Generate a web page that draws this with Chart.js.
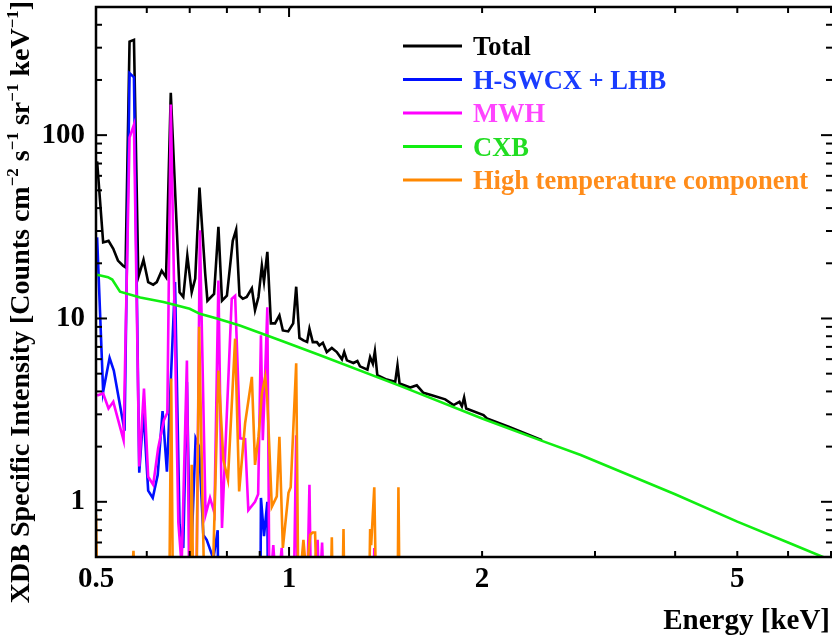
<!DOCTYPE html>
<html>
<head>
<meta charset="utf-8">
<script src="https://cdn.jsdelivr.net/npm/chart.js@4.4.1/dist/chart.umd.min.js"></script>
<style>
  html, body { margin: 0; padding: 0; background: #fff; }
  #wrap { width: 832px; height: 637px; position: relative; }
</style>
</head>
<body>
<div id="wrap"><canvas id="spec"></canvas></div>
<script>
// energies (keV) and intensities, one pair of arrays per component
const totalE = [0.502,0.513,0.523,0.532,0.541,0.551,0.556,0.564,0.573,0.582,
                0.593,0.603,0.614,0.622,0.633,0.643,0.654,0.675,0.684,0.694,
                0.705,0.714,0.725,0.740,0.746,0.764,0.776,0.786,0.800,0.817,
                0.827,0.837,0.847,0.859,0.875,0.885,0.896,0.907,0.914,0.925,
                0.937,0.951,0.966,0.978,0.997,1.015,1.026,1.038,1.053,1.067,
                1.076,1.089,1.105,1.115,1.129,1.145,1.166,1.187,1.209,1.219,
                1.231,1.260,1.278,1.290,1.325,1.338,1.351,1.361,1.373,1.420,
                1.464,1.476,1.487,1.545,1.582,1.620,1.670,1.752,1.805,1.844,
                1.860,1.875,1.889,2.010,2.035,2.200,2.480];
const totalI = [72,26,26.5,24,20.7,19.4,19,324,331,16.8,
                20.9,15.8,15.3,15.8,18.2,16.8,170,13.9,13.1,22,
                13.9,16.5,51.7,17.6,12.5,13.6,31.6,12.5,13.3,26.5,
                30.5,13.3,12.8,13.1,14.6,11.1,13.1,19.4,15.9,23.1,
                9.4,9.4,10.4,8.6,8.5,9.4,14.9,7.83,7.6,7.45,
                8.8,7.43,7.43,7.13,7.37,6.56,6.9,6.56,5.99,6.56,
                5.91,5.72,5.86,5.48,5.26,6.16,5.67,6.62,4.9,4.64,
                4.51,5.55,4.42,4.2,4.32,3.93,3.81,3.62,3.37,3.51,
                3.32,3.71,3.23,2.97,2.85,2.57,2.17];

const swcxE = [0.502,0.513,0.525,0.533,0.554,0.564,0.573,0.584,0.593,0.603,
               0.613,0.624,0.635,0.645,0.664,0.675,0.684,0.693,0.702,0.715,
               0.724,0.735,0.744,0.762,0.774,0.782,0.898,0.904,0.914,0.925,0.933];
const swcxI = [27.7,3.98,6.1,5.2,2.44,218,207,1.44,3.13,1.15,
               1.05,1.4,3.12,1.46,15.8,0.75,0.56,4.5,0.4,2.22,
               2.0,0.66,0.62,0.49,0.7,0.01,0.01,1.05,0.65,1.0,0.01];

const mwhE = [0.502,0.513,0.523,0.532,0.552,0.564,0.573,0.584,0.594,0.603,
              0.614,0.625,0.638,0.646,0.654,0.672,0.680,0.693,0.699,0.717,
              0.726,0.741,0.753,0.765,0.776,0.786,0.814,0.824,0.839,0.854,
              0.864,0.885,0.895,0.904,0.910,0.915,0.925,0.932,0.945,0.957,
              0.974,0.983,1.017,1.026,1.031,1.067,1.076,1.082,1.108,1.115,
              1.126,1.134,1.355,1.358,1.363];
const mwhI = [3.8,3.9,3.23,3.51,2.17,97,114,1.56,4.15,1.37,
              1.24,1.96,2.79,3.06,147,0.77,0.45,5.9,0.3,0.3,
              30.3,0.85,1.05,0.87,16.1,0.72,12.8,13.3,2.22,2.2,
              0.9,1.0,1.1,8.1,2.17,3.58,11.5,0.3,0.58,0.3,
              0.56,0.3,0.3,2.31,0.3,0.3,1.24,0.3,0.62,0.3,
              0.6,0.3,0.3,0.56,0.3];

const cxbE = [0.502,0.522,0.530,0.545,0.586,0.637,0.700,0.726,0.772,0.838,
              0.968,1.118,1.5,2.0,2.48,2.85,4.0,5.0,6.0,6.8,7.0];
const cxbI = [17.3,16.8,16.3,14.0,13.0,12.3,11.3,10.6,10.0,9.15,
              7.6,6.3,4.25,2.85,2.15,1.8,1.1,0.78,0.6,0.5,0.48];

const hotE = [0.500,0.510,0.566,0.572,0.576,0.645,0.655,0.664,0.701,0.705,
              0.709,0.717,0.724,0.738,0.759,0.776,0.790,0.803,0.824,0.836,
              0.854,0.875,0.885,0.896,0.907,0.918,0.925,0.940,0.957,0.966,
              0.978,0.998,1.006,1.026,1.034,1.053,1.064,1.079,1.088,1.098,
              1.105,1.161,1.166,1.170,1.211,1.216,1.220,1.333,1.338,1.343,
              1.358,1.367,1.477,1.481,1.487];
const hotI = [0.85,0.01,0.3,0.54,0.3,0.01,4.7,0.01,0.3,1.59,
              0.3,0.3,9.0,0.3,0.3,5.2,1.69,1.32,7.76,1.14,
              2.68,4.8,1.59,2.26,3.9,4.8,3.58,0.94,1.07,2.26,
              0.56,1.12,1.2,5.7,0.3,0.62,0.4,0.66,0.68,0.68,
              0.3,0.3,0.64,0.3,0.3,0.71,0.3,0.3,0.71,0.58,
              1.2,0.3,0.3,1.2,0.3];

const xTickLabels = [0.5, 1, 2, 5];
const yTickLabels = [1, 10, 100];
const xMajor = [1];
const xMinor = [0.6, 0.7, 0.8, 0.9, 2, 3, 4, 5, 6, 7];
const yMajor = [1, 10, 100];
const yMinor = [0.6, 0.7, 0.8, 0.9, 2, 3, 4, 5, 6, 7, 8, 9,
                20, 30, 40, 50, 60, 70, 80, 90, 200, 300, 400];

const SERIF = "'Liberation Serif', 'Times New Roman', serif";

function pts(xs, ys) {
  return xs.map((x, i) => ({ x: x, y: ys[i] }));
}

function line(ctx, x1, y1, x2, y2) {
  ctx.beginPath();
  ctx.moveTo(x1, y1);
  ctx.lineTo(x2, y2);
  ctx.stroke();
}

function noPad(s) {
  s.paddingTop = 0;
  s.paddingBottom = 0;
  s.paddingLeft = 0;
  s.paddingRight = 0;
}

// frame (right edge falls off the canvas), inward ticks, legend and axis titles
const decorations = {
  id: 'decorations',
  afterDatasetsDraw(chart) {
    const ctx = chart.ctx;
    const a = chart.chartArea;
    const xs = chart.scales.x, ys = chart.scales.y;
    ctx.save();
    ctx.strokeStyle = '#000';
    ctx.lineWidth = 2.5;
    ctx.beginPath();
    ctx.moveTo(a.right + 2, a.top);
    ctx.lineTo(a.left, a.top);
    ctx.lineTo(a.left, a.bottom);
    ctx.lineTo(a.right + 2, a.bottom);
    ctx.stroke();

    ctx.lineWidth = 2;
    const xt = (v, len) => {
      const p = xs.getPixelForValue(v);
      line(ctx, p, a.bottom, p, a.bottom - len);
      line(ctx, p, a.top, p, a.top + len);
    };
    const yt = (v, len) => {
      const p = ys.getPixelForValue(v);
      line(ctx, a.left, p, a.left + len, p);
      line(ctx, a.right + 1, p, a.right + 1 - len, p);
    };
    xMajor.forEach(v => xt(v, 10));
    xMinor.forEach(v => xt(v, 6));
    yMajor.forEach(v => yt(v, 11));
    yMinor.forEach(v => yt(v, 6));

    // legend
    ctx.font = 'bold 26.5px ' + SERIF;
    ctx.textAlign = 'left';
    ctx.textBaseline = 'alphabetic';
    chart.data.datasets.forEach((ds, i) => {
      const y = 46 + i * 33.5;
      ctx.strokeStyle = ds.borderColor;
      ctx.lineWidth = 3;
      line(ctx, 403, y, 462, y);
      ctx.fillStyle = ds.textColor;
      ctx.fillText(ds.label, 473, y + 9);
    });

    // axis titles
    ctx.fillStyle = '#000';
    ctx.font = 'bold 29px ' + SERIF;
    ctx.textAlign = 'right';
    ctx.fillText('Energy [keV]', 830, 629);

    const parts = [['XDB Specific Intensity [Counts cm', 0], ['\u22122', 1], [' s', 0], ['\u22121', 1],
                   [' sr', 0], ['\u22121', 1], [' keV', 0], ['\u22121', 1], [']', 0]];
    const big = 'bold 28px ' + SERIF, small = 'bold 17px ' + SERIF;
    let w = 0;
    parts.forEach(p => { ctx.font = p[1] ? small : big; w += ctx.measureText(p[0]).width; });
    ctx.translate(29, 302);
    ctx.rotate(-Math.PI / 2);
    ctx.textAlign = 'left';
    let cx = -w / 2;
    parts.forEach(p => {
      ctx.font = p[1] ? small : big;
      ctx.fillText(p[0], cx, p[1] ? -11 : 0);
      cx += ctx.measureText(p[0]).width;
    });
    ctx.restore();
  }
};

new Chart(document.getElementById('spec').getContext('2d'), {
  type: 'line',
  data: {
    datasets: [
      { label: 'Total', data: pts(totalE, totalI), borderColor: '#000000', textColor: '#000000', order: 5 },
      { label: 'H-SWCX + LHB', data: pts(swcxE, swcxI), borderColor: '#0010ff', textColor: '#1a3cff', order: 4 },
      { label: 'MWH', data: pts(mwhE, mwhI), borderColor: '#ff00ff', textColor: '#ff44ff', order: 3 },
      { label: 'CXB', data: pts(cxbE, cxbI), borderColor: '#11ee11', textColor: '#22dd22', order: 2 },
      { label: 'High temperature component', data: pts(hotE, hotI), borderColor: '#ff8800', textColor: '#ff8c1a', order: 1 }
    ]
  },
  options: {
    responsive: true,
    maintainAspectRatio: false,
    animation: false,
    layout: { padding: { top: 7, right: 1, left: 0, bottom: 0 } },
    elements: {
      line: { borderWidth: 2.6, tension: 0, fill: false },
      point: { radius: 0 }
    },
    plugins: { legend: { display: false }, tooltip: { enabled: false } },
    scales: {
      x: {
        type: 'logarithmic',
        min: 0.5,
        max: 7,
        grid: { display: false, drawTicks: false },
        border: { display: false },
        afterBuildTicks: s => { s.ticks = xTickLabels.map(v => ({ value: v })); },
        afterFit: s => { s.height = 80; noPad(s); },
        ticks: {
          autoSkip: false,
          maxRotation: 0,
          padding: 5,
          color: '#000',
          font: { family: SERIF, size: 29, weight: 'bold' },
          callback: v => String(v)
        }
      },
      y: {
        type: 'logarithmic',
        min: 0.5,
        max: 500,
        grid: { display: false, drawTicks: false },
        border: { display: false },
        afterBuildTicks: s => { s.ticks = yTickLabels.map(v => ({ value: v })); },
        afterFit: s => { s.width = 96; noPad(s); },
        ticks: {
          autoSkip: false,
          padding: 11,
          color: '#000',
          font: { family: SERIF, size: 29, weight: 'bold' },
          callback: v => String(v)
        }
      }
    }
  },
  plugins: [decorations]
});
</script>
</body>
</html>
